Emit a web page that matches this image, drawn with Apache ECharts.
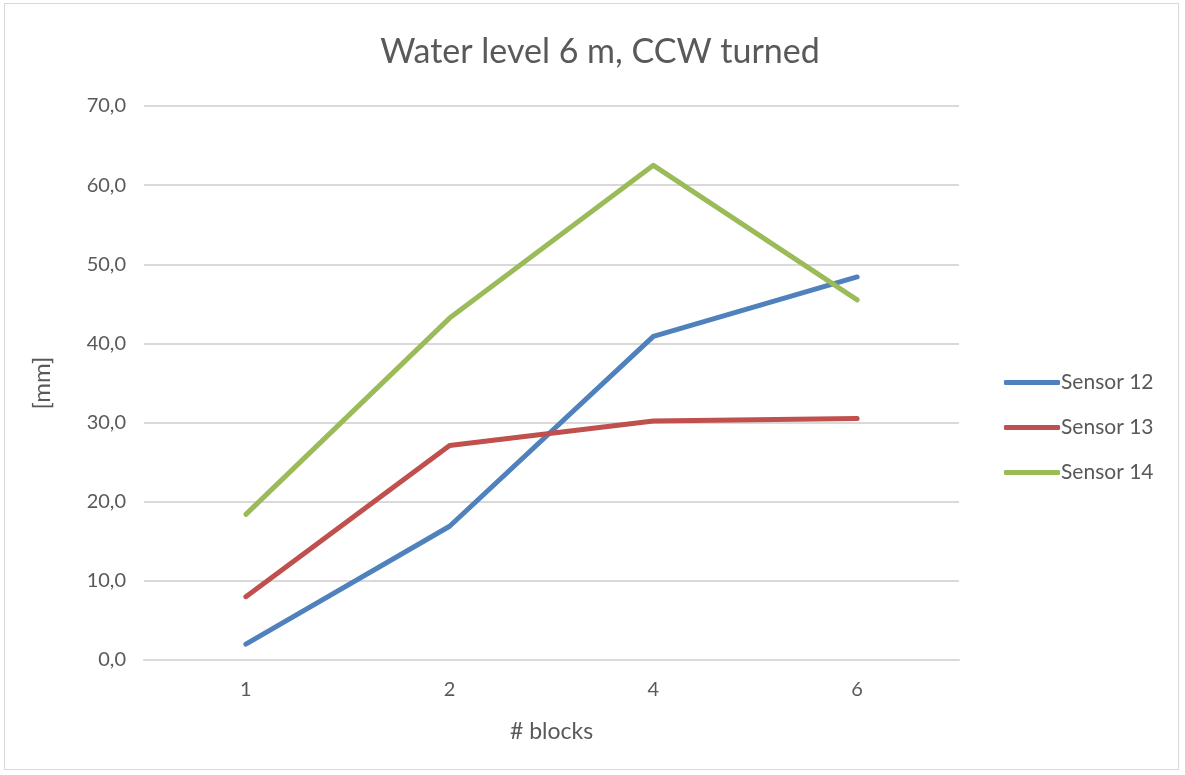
<!DOCTYPE html>
<html><head><meta charset="utf-8">
<script src="https://cdn.jsdelivr.net/npm/echarts@6/dist/echarts.min.js"></script>
<style>
html,body{margin:0;padding:0;background:#fff;}
#c{position:absolute;left:4px;top:3px;width:1175px;height:767px;border:1px solid #d9d9d9;box-sizing:border-box;}
</style></head>
<body><div id="c"></div>
<script>
var categories = ['1', '2', '4', '6'];
var sensor12 = [2.0, 16.9, 40.9, 48.4];
var sensor13 = [8.0, 27.1, 30.2, 30.5];
var sensor14 = [18.4, 43.2, 62.5, 45.5];
var seriesNames = ['Sensor 12', 'Sensor 13', 'Sensor 14'];
var colors = ['#4F81BD', '#C0504D', '#9BBB59'];

var font = 'Lato, "Open Sans", sans-serif';
var chart = echarts.init(document.getElementById('c'));
function mk(name, data, color) {
  return {name: name, type: 'line', data: data, symbol: 'none',
    lineStyle: {width: 5, color: color, cap: 'round', join: 'round'}, itemStyle: {color: color}};
}
chart.setOption({
  animation: false,
  textStyle: {fontFamily: font},
  title: {text: 'Water level 6 m, CCW turned', left: 590, top: 26, textAlign: 'center',
    textStyle: {fontFamily: font, fontSize: 34, fontWeight: 'normal', color: '#595959'}},
  grid: {left: 139, right: 219, top: 102, bottom: 109},
  legend: {orient: 'vertical', left: 994, top: 363, itemGap: 24, itemWidth: 56, itemHeight: 5,
    icon: 'roundRect',
    data: seriesNames,
    textStyle: {fontFamily: font, fontSize: 21, color: '#595959', padding: [0, 0, 0, -4]}},
  xAxis: {type: 'category', data: categories, boundaryGap: true,
    name: '# blocks', nameLocation: 'middle', nameGap: 60,
    nameTextStyle: {fontFamily: font, fontSize: 23, color: '#595959'},
    axisLine: {show: true, lineStyle: {color: '#d9d9d9', width: 2}},
    axisTick: {show: false},
    axisLabel: {fontFamily: font, fontSize: 20, color: '#595959', margin: 20}},
  yAxis: {type: 'value', min: 0, max: 70, interval: 10,
    name: '[mm]', nameLocation: 'middle', nameGap: 90, nameRotate: 90,
    nameTextStyle: {fontFamily: font, fontSize: 24, color: '#595959'},
    axisLine: {show: false}, axisTick: {show: false},
    splitLine: {lineStyle: {color: '#d9d9d9', width: 2}},
    axisLabel: {fontFamily: font, fontSize: 20, color: '#595959', margin: 18,
      formatter: function (v) { return v.toFixed(1).replace('.', ','); }}},
  series: [mk(seriesNames[0], sensor12, colors[0]), mk(seriesNames[1], sensor13, colors[1]), mk(seriesNames[2], sensor14, colors[2])]
});
</script></body></html>
